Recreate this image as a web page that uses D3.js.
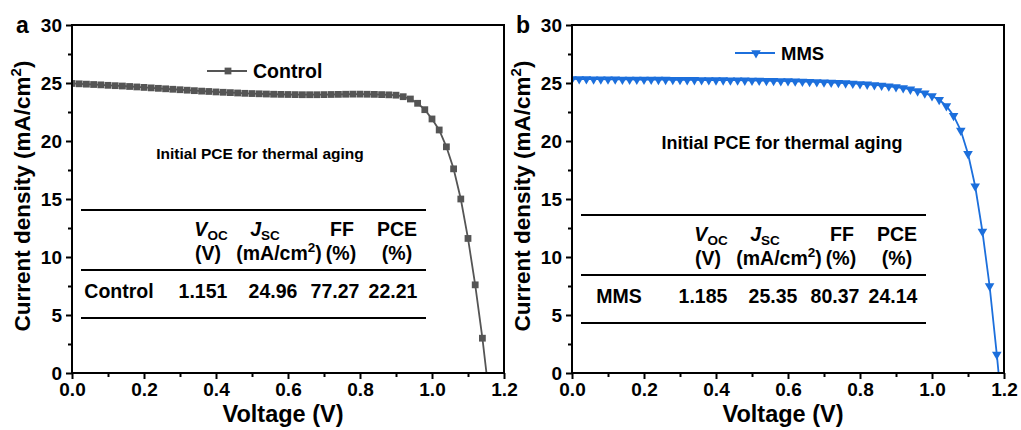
<!DOCTYPE html>
<html>
<head>
<meta charset="utf-8">
<script src="https://cdn.jsdelivr.net/npm/d3@7"></script>
<style>
  body { margin: 0; background: #fff; }
  svg { display: block; }
  text { font-family: "Liberation Sans", Arial, sans-serif; font-weight: bold; fill: #000; }
</style>
</head>
<body>
<svg id="chart" width="1021" height="430"></svg>
<script>
// J–V curves (voltage in V, current density in mA/cm²)
const controlVoltage = [0.00,0.02,0.04,0.06,0.08,0.10,0.12,0.14,0.16,0.18,0.20,0.22,0.24,0.26,0.28,0.30,0.32,0.34,0.36,0.38,0.40,0.42,0.44,0.46,0.48,0.50,0.52,0.54,0.56,0.58,0.60,0.62,0.64,0.66,0.68,0.70,0.72,0.74,0.76,0.78,0.80,0.82,0.84,0.86,0.88,0.90,0.92,0.94,0.96,0.98,1.00,1.02,1.04,1.06,1.08,1.10,1.12,1.14,1.16];
const controlCurrent = [24.96,24.93,24.90,24.87,24.84,24.80,24.77,24.74,24.70,24.66,24.62,24.58,24.54,24.50,24.46,24.42,24.38,24.34,24.30,24.27,24.23,24.20,24.17,24.14,24.11,24.09,24.07,24.05,24.03,24.02,24.01,24.00,23.99,23.99,23.99,24.00,24.01,24.02,24.03,24.04,24.04,24.03,24.02,24.00,23.98,23.95,23.82,23.62,23.25,22.70,21.90,20.95,19.50,17.60,15.00,11.60,7.60,3.00,-2.30];

const mmsVoltage = [0.00,0.02,0.04,0.06,0.08,0.10,0.12,0.14,0.16,0.18,0.20,0.22,0.24,0.26,0.28,0.30,0.32,0.34,0.36,0.38,0.40,0.42,0.44,0.46,0.48,0.50,0.52,0.54,0.56,0.58,0.60,0.62,0.64,0.66,0.68,0.70,0.72,0.74,0.76,0.78,0.80,0.82,0.84,0.86,0.88,0.90,0.92,0.94,0.96,0.98,1.00,1.02,1.04,1.06,1.08,1.10,1.12,1.14,1.16,1.18,1.20];
const mmsCurrent = [25.35,25.34,25.34,25.33,25.33,25.32,25.32,25.31,25.31,25.30,25.30,25.30,25.29,25.29,25.28,25.28,25.27,25.27,25.26,25.26,25.25,25.25,25.24,25.24,25.23,25.22,25.21,25.20,25.19,25.18,25.17,25.15,25.13,25.11,25.09,25.07,25.05,25.02,24.99,24.96,24.92,24.88,24.83,24.78,24.72,24.65,24.57,24.45,24.30,24.12,23.88,23.55,23.02,22.18,20.90,18.90,16.10,12.20,7.50,1.60,-4.90];

// Photovoltaic parameters table
const tableHeaders = ["VOC", "JSC", "FF", "PCE"];
const tableUnits = ["(V)", "(mA/cm2)", "(%)", "(%)"];
const controlParams = ["Control", "1.151", "24.96", "77.27", "22.21"];
const mmsParams = ["MMS", "1.185", "25.35", "80.37", "24.14"];

// Axis ticks
const xTicks = [0.0, 0.2, 0.4, 0.6, 0.8, 1.0, 1.2];
const xMinorTicks = [0.1, 0.3, 0.5, 0.7, 0.9, 1.1];
const yTicks = [0, 5, 10, 15, 20, 25, 30];
const yMinorTicks = [2.5, 7.5, 12.5, 17.5, 22.5, 27.5];

const noteText = "Initial PCE for thermal aging";

const svg = d3.select("#chart");
const plotTop = 25, plotBottom = 373, plotWidth = 432;

const panels = [
  { tag: "a", left: 72, name: "Control", volt: controlVoltage, curr: controlCurrent, params: controlParams,
    color: "#555555", symbol: d3.symbolSquare, symSize: 46, symRotate: 0, labelColor: "#000", legendSize: 19.5,
    legendX: 135, legendY: 71, noteX: 188, noteY: 159, noteSize: 15.5, tableTop: 210 },
  { tag: "b", left: 572, name: "MMS", volt: mmsVoltage, curr: mmsCurrent, params: mmsParams,
    color: "#1c6fdc", symbol: d3.symbolTriangle, symSize: 40, symRotate: 180, labelColor: "#1c6fdc", legendSize: 18.5,
    legendX: 163, legendY: 53, noteX: 210, noteY: 149, noteSize: 18, tableTop: 215 }
];

function addSup(sel, base, sup, tail, supSize, rise) {
  sel.append("tspan").text(base);
  sel.append("tspan").attr("font-size", supSize).attr("dy", -rise).text(sup);
  sel.append("tspan").attr("dy", rise).text(tail);
}

panels.forEach((p, pi) => {
  const x = d3.scaleLinear().domain([0, 1.2]).range([p.left, p.left + plotWidth]);
  const y = d3.scaleLinear().domain([0, 30]).range([plotBottom, plotTop]);
  const g = svg.append("g");

  const clipId = "clip" + pi;
  g.append("clipPath").attr("id", clipId).append("rect")
    .attr("x", x(0)).attr("y", y(30)).attr("width", x(1.2) - x(0)).attr("height", y(0) - y(30));

  // curve + markers
  const pts = p.volt.map((v, i) => [v, p.curr[i]]);
  const line = d3.line().x(d => x(d[0])).y(d => y(d[1]));
  const cg = g.append("g").attr("clip-path", `url(#${clipId})`);
  cg.append("path").datum(pts).attr("d", line)
    .attr("fill", "none").attr("stroke", p.color).attr("stroke-width", 1.8);
  const sym = d3.symbol().type(p.symbol).size(p.symSize);
  cg.selectAll("path.m").data(pts).join("path").attr("class", "m")
    .attr("d", sym)
    .attr("transform", d => `translate(${x(d[0])},${y(d[1])}) rotate(${p.symRotate})`)
    .attr("fill", p.color);

  // frame
  g.append("rect").attr("x", x(0)).attr("y", y(30)).attr("width", x(1.2) - x(0)).attr("height", y(0) - y(30))
    .attr("fill", "none").attr("stroke", "#000").attr("stroke-width", 2);

  // axes
  const xAxis = g.append("g").attr("transform", `translate(0,${plotBottom})`)
    .call(d3.axisBottom(x).tickValues(xTicks).tickFormat(d3.format(".1f")).tickSize(6).tickPadding(3));
  g.append("g").attr("transform", `translate(0,${plotBottom})`)
    .call(d3.axisBottom(x).tickValues(xMinorTicks).tickFormat("").tickSize(4));
  const yAxis = g.append("g").attr("transform", `translate(${p.left},0)`)
    .call(d3.axisLeft(y).tickValues(yTicks).tickSize(6).tickPadding(4));
  g.append("g").attr("transform", `translate(${p.left},0)`)
    .call(d3.axisLeft(y).tickValues(yMinorTicks).tickFormat("").tickSize(4));
  g.selectAll(".domain").remove();
  g.selectAll(".tick line").attr("stroke", "#000").attr("stroke-width", 2);
  xAxis.selectAll("text").attr("font-size", 19).attr("font-family", null).attr("fill", "#000").attr("dy", "0.72em");
  yAxis.selectAll("text").attr("font-size", 19).attr("font-family", null).attr("fill", "#000");

  // axis titles
  g.append("text").attr("x", (x(0) + x(1.2)) / 2 - 5).attr("y", 422).attr("text-anchor", "middle")
    .attr("font-size", 23.5).text("Voltage (V)");
  const yt = g.append("text").attr("text-anchor", "middle").attr("font-size", 22.5)
    .attr("transform", `translate(${p.left - 42},${(plotTop + plotBottom) / 2 - 3}) rotate(-90)`);
  addSup(yt, "Current density (mA/cm", "2", ")", 15, 9);

  // panel letter
  g.append("text").attr("x", p.left - 56).attr("y", 33).attr("font-size", 23).text(p.tag);

  // legend
  const lx = p.left + p.legendX, ly = p.legendY;
  g.append("line").attr("x1", lx).attr("x2", lx + 40).attr("y1", ly).attr("y2", ly)
    .attr("stroke", p.color).attr("stroke-width", 1.8);
  g.append("path").attr("d", sym).attr("transform", `translate(${lx + 21},${ly}) rotate(${p.symRotate})`).attr("fill", p.color);
  g.append("text").attr("x", lx + 46).attr("y", ly + 7).attr("font-size", p.legendSize).attr("fill", p.labelColor).text(p.name);

  // note
  g.append("text").attr("x", p.left + p.noteX).attr("y", p.noteY).attr("text-anchor", "middle")
    .attr("font-size", p.noteSize).text(noteText);

  // parameter table
  const t = p.tableTop, L = p.left;
  [0, 60, 108].forEach(dy => g.append("line").attr("x1", L + 9).attr("x2", L + 354)
    .attr("y1", t + dy).attr("y2", t + dy).attr("stroke", "#000").attr("stroke-width", 2));
  const headX = [139, 193, 270, 325];
  const unitX = [136, 207, 269, 325];
  const rowX = [47, 131, 201, 263, 321];
  tableHeaders.forEach((h, i) => {
    const tx = g.append("text").attr("x", L + headX[i]).attr("y", t + 26).attr("text-anchor", "middle").attr("font-size", 19.5);
    if (i < 2) {
      tx.append("tspan").attr("font-style", "italic").text(h[0]);
      tx.append("tspan").attr("font-size", 13.5).attr("dy", 4).text(h.slice(1));
    } else {
      tx.text(h);
    }
  });
  tableUnits.forEach((u, i) => {
    const tx = g.append("text").attr("x", L + unitX[i]).attr("y", t + 50).attr("text-anchor", "middle").attr("font-size", 19.5);
    if (u.includes("cm2")) addSup(tx, "(mA/cm", "2", ")", 13.5, 8);
    else tx.text(u);
  });
  p.params.forEach((v, i) => {
    g.append("text").attr("x", L + rowX[i]).attr("y", t + 88).attr("text-anchor", "middle").attr("font-size", 19.5).text(v);
  });
});
</script>
</body>
</html>
